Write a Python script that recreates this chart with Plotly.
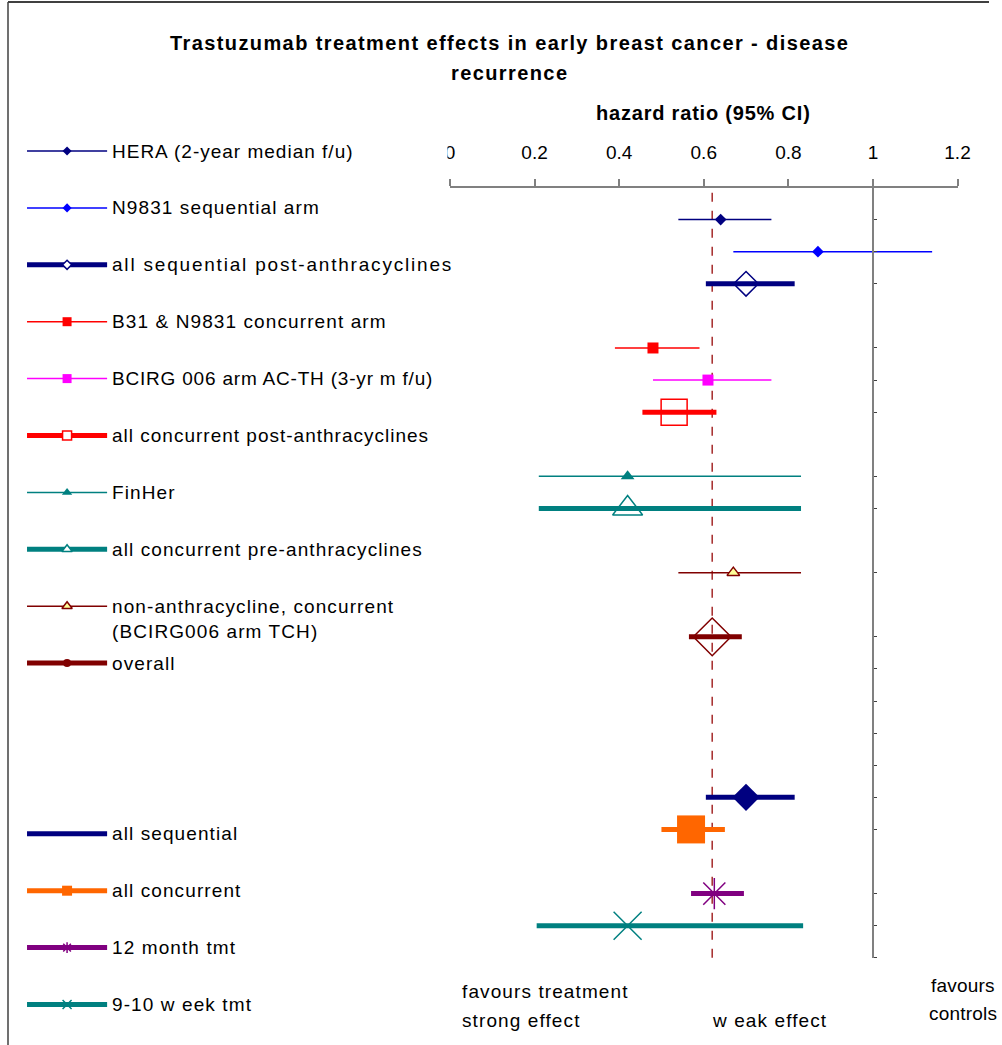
import plotly.graph_objects as go

# ---------------- data ----------------
series_names = [
    "HERA (2-year median f/u)",
    "N9831 sequential arm",
    "all sequential post-anthracyclines",
    "B31 & N9831 concurrent arm",
    "BCIRG 006 arm AC-TH (3-yr m f/u)",
    "all concurrent post-anthracyclines",
    "FinHer",
    "all concurrent pre-anthracyclines",
    "non-anthracycline, concurrent<br>(BCIRG006 arm TCH)",
    "overall",
    "all sequential",
    "all concurrent",
    "12 month tmt",
    "9-10 w eek tmt",
]
row_pos = [0, 1, 2, 4, 5, 6, 8, 9, 11, 13, 18, 19, 21, 22]
hazard_ratio = [0.64, 0.87, 0.70, 0.48, 0.61, 0.53, 0.42, 0.42, 0.67, 0.62, 0.70, 0.57, 0.625, 0.42]
ci_low = [0.54, 0.67, 0.605, 0.39, 0.48, 0.455, 0.21, 0.21, 0.54, 0.565, 0.605, 0.50, 0.57, 0.205]
ci_high = [0.76, 1.14, 0.815, 0.59, 0.76, 0.63, 0.83, 0.83, 0.83, 0.69, 0.815, 0.65, 0.695, 0.835]
legend_slot = [0, 1, 2, 3, 4, 5, 6, 7, 8, 9, 12, 13, 14, 15]
x_tick_vals = [0, 0.2, 0.4, 0.6, 0.8, 1, 1.2]
x_tick_text = ["0", "0.2", "0.4", "0.6", "0.8", "1", "1.2"]
y_tick_rows = [0, 1, 2, 4, 5, 6, 8, 9, 11, 13, 14, 15, 16, 17, 18, 19, 21, 22, 23]
overall_index = 9

# ---------------- styles ----------------
NAVY, BLUE, RED, MAG, TEAL, MAROON, ORANGE, PURPLE = (
    "#000080", "#0000FF", "#FF0000", "#FF00FF", "#008080", "#800000", "#FF6600", "#800080")
colors = [NAVY, BLUE, NAVY, RED, MAG, RED, TEAL, TEAL, MAROON, MAROON, NAVY, ORANGE, PURPLE, TEAL]
line_w = [1.5, 1.5, 5, 1.5, 1.5, 5, 1.5, 5, 1.5, 5, 5, 5, 5, 5]
symbols = ["diamond", "diamond", "diamond-open", "square", "square", "square-open",
           "triangle-up", "triangle-up-open", "triangle-up", "diamond-open",
           "diamond", "square", "asterisk-open", "x-thin-open"]
sizes = [9, 9, 19, 11, 11, 26, 12, 26, 11, 29, 21, 28, 26, 28]
fills = [None] * 14
fills[8] = "#FFFF99"
outline_w = [0, 0, 1.5, 0, 0, 1.5, 0, 1.5, 1.5, 1.5, 0, 0, 1.5, 1.5]
leg_symbols = ["diamond", "diamond", "diamond", "square", "square", "square",
               "triangle-up", "triangle-up", "triangle-up", "circle",
               "diamond", "square", "asterisk-open", "x-thin-open"]
leg_fills = [None, None, "white", None, None, "white", None, "white", "#FFFF99", None,
             None, None, None, None]
leg_sizes = [7, 7, 7, 9, 9, 9, 9, 9, 9, 8, 0, 10, 9, 9]
leg_spacing = [1.0, 1.1, 1.8, 1.1, 0.8, 1.0, 1.1, 1.1, 1.1, 1.1, 1.1, 1.1, 1.1, 1.1]

FONT = "Liberation Sans, Arial, sans-serif"
W, H = 1002, 1045
# horizontal layout positions (pixels), mapped through a small calibration
CAL_OFF, CAL_SCALE = 5.0, 0.981


def X(t):
    return (t - CAL_OFF) / CAL_SCALE


X0_PX, X1_PX = X(449.5), X(956.5)
Y_TOP_PX, Y_BOT_PX = 187.5, 957.8
LEG_Y0, LEG_STEP = 151.0, 56.9


def spaced(t, ls=1.1):
    return f'<span style="letter-spacing:{ls}px">{t}</span>'


fig = go.Figure()

for i in range(len(series_names)):
    c = colors[i]
    fig.add_trace(go.Scatter(
        x=[ci_low[i], ci_high[i]], y=[row_pos[i], row_pos[i]], mode="lines",
        line=dict(color=c, width=line_w[i]), showlegend=False, hoverinfo="skip",
        xaxis="x", yaxis="y"))
    fc = fills[i] if fills[i] else c
    fig.add_trace(go.Scatter(
        x=[hazard_ratio[i]], y=[row_pos[i]], mode="markers",
        marker=dict(symbol=symbols[i], size=sizes[i], color=fc,
                    line=dict(color=c, width=outline_w[i])),
        showlegend=False, cliponaxis=False, xaxis="x", yaxis="y"))

annotations = []
for i in range(len(series_names)):
    c = colors[i]
    ly = LEG_Y0 + LEG_STEP * legend_slot[i]
    lw = 1.5 if line_w[i] < 3 else 5
    fig.add_trace(go.Scatter(
        x=[X(27), X(107)], y=[ly, ly], mode="lines", line=dict(color=c, width=lw),
        showlegend=False, hoverinfo="skip", xaxis="x2", yaxis="y2"))
    if leg_sizes[i] > 0:
        fc = leg_fills[i] if leg_fills[i] else c
        fig.add_trace(go.Scatter(
            x=[X(67)], y=[ly], mode="markers",
            marker=dict(symbol=leg_symbols[i], size=leg_sizes[i], color=fc,
                        line=dict(color=c, width=1.5 if (leg_fills[i] or leg_symbols[i].endswith("open")) else 0)),
            showlegend=False, hoverinfo="skip", xaxis="x2", yaxis="y2"))
    two_line = "<br>" in series_names[i]
    annotations.append(dict(
        x=X(110), y=(ly - 12 if two_line else ly), xref="x2", yref="y2",
        text=spaced(series_names[i], leg_spacing[i]), showarrow=False, xanchor="left",
        yanchor="top" if two_line else "middle", align="left",
        font=dict(family=FONT, size=19, color="black")))


def txt(x, y, t, bold=False, xanchor="left", ls=1.1, size=19):
    s = f"<b>{t}</b>" if bold else t
    annotations.append(dict(x=x, y=y, xref="x2", yref="y2", text=spaced(s, ls),
                            showarrow=False, xanchor=xanchor, yanchor="middle",
                            font=dict(family=FONT, size=size, color="black")))


txt(X(508.5), 43, "Trastuzumab treatment effects in early breast cancer - disease", True, "center", 1.4, 20)
txt(X(508.5), 73, "recurrence", True, "center", 1.4, 20)
txt((X0_PX + X1_PX) / 2, 113, "hazard ratio (95% CI)", True, "center", 0.8, 20)
txt(X(460), 991, "favours treatment")
txt(X(460), 1020, "strong effect")
txt(X(709), 1020, "w eak effect")
txt(X(928), 985, "favours", ls=0.2)
txt(X(926), 1013, "controls", ls=0.2)

xd0, xd1 = X0_PX / W, X1_PX / W
y_axis_pos = xd0 + (1 - 0) / (1.2 - 0) * (xd1 - xd0)

fig.update_layout(
    width=W, height=H, autosize=False,
    margin=dict(l=0, r=0, t=0, b=0, pad=0),
    paper_bgcolor="white", plot_bgcolor="rgba(0,0,0,0)",
    showlegend=False,
    xaxis=dict(domain=[xd0, xd1], range=[0, 1.2], side="top", anchor="y",
               tickvals=x_tick_vals, ticktext=x_tick_text,
               showline=True, linecolor="#808080", linewidth=1.5,
               ticks="outside", ticklen=7, tickcolor="#808080", tickwidth=1.5,
               showgrid=False, zeroline=False, ticklabelstandoff=12,
               tickfont=dict(family=FONT, size=19, color="black")),
    yaxis=dict(domain=[1 - Y_BOT_PX / H, 1 - Y_TOP_PX / H], range=[23, -1],
               anchor="free", position=y_axis_pos, side="right",
               showline=True, linecolor="#808080", linewidth=1.5,
               ticks="outside", ticklen=3, tickcolor="#404040", tickwidth=1,
               tickvals=y_tick_rows, showticklabels=False,
               showgrid=False, zeroline=False),
    xaxis2=dict(domain=[0, 1], range=[0, W], visible=False, anchor="y2", fixedrange=True),
    yaxis2=dict(domain=[0, 1], range=[H, 0], visible=False, anchor="x2", fixedrange=True),
    annotations=annotations,
    shapes=[
        dict(type="line", xref="x", yref="y domain",
             x0=hazard_ratio[overall_index], x1=hazard_ratio[overall_index], y0=0, y1=1,
             line=dict(color="#A52A2A", width=1.5, dash="dash"), layer="below"),
        dict(type="rect", xref="x2", yref="y2", x0=X(380), x1=X(447), y0=138, y1=174,
             fillcolor="white", line=dict(width=0), layer="above"),
        dict(type="line", xref="x2", yref="y2", x0=X(8), x1=W, y0=2, y1=2,
             line=dict(color="#404040", width=2)),
        dict(type="line", xref="x2", yref="y2", x0=X(8), x1=X(8), y0=2, y1=H,
             line=dict(color="#404040", width=1.5)),
    ],
)

fig.write_html("out.html")
